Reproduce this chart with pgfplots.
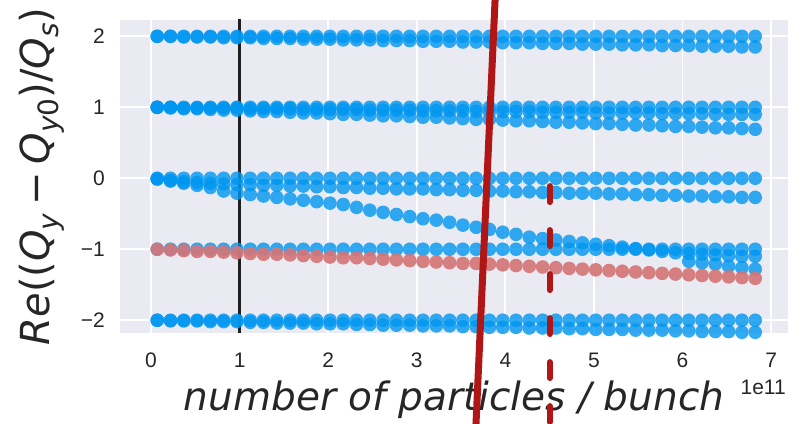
\documentclass[border=0pt]{standalone}
\usepackage{fontspec}
\setmainfont{Liberation Sans}
\newfontfamily\dvs{DejaVu Sans}
\usepackage{pgfplots}
\usepackage{pgfplotstable}
\usetikzlibrary{calc}
\pgfplotsset{compat=1.18}

\definecolor{bgc}{HTML}{EAEAF2}
\definecolor{txt}{HTML}{262626}
\definecolor{bluec}{RGB}{0,150,240}
\definecolor{redc}{RGB}{212,118,120}
\definecolor{lineRed}{RGB}{176,22,22}

% subscript in the label font
\newcommand{\sbs}[1]{\raisebox{-0.22em}{\fontsize{28}{28}\selectfont #1}}

% tune shift of each mode versus bunch intensity (x in units of 1e11)
\pgfplotstableread{
x    A  B    C  D    E    F  G     H     I  J     K  L     R
0.07 2  2.00 1  1.00 1.00 0  -0.01 -0.01 -1 nan   -2 -2.00 -1.00
0.22 2  2.00 1  1.00 0.99 0  -0.03 -0.04 -1 nan   -2 -2.01 -1.01
0.37 2  1.99 1  0.99 0.98 0  -0.05 -0.07 -1 nan   -2 -2.01 -1.02
0.52 2  1.99 1  0.99 0.98 0  -0.06 -0.10 -1 nan   -2 -2.01 -1.03
0.67 2  1.99 1  0.99 0.97 0  -0.07 -0.13 -1 nan   -2 -2.02 -1.03
0.82 2  1.98 1  0.99 0.96 0  -0.08 -0.18 -1 nan   -2 -2.02 -1.04
0.97 2  1.98 1  0.99 0.96 0  -0.09 -0.21 -1 nan   -2 -2.02 -1.05
1.12 2  1.98 1  0.98 0.95 0  -0.09 -0.23 -1 nan   -2 -2.03 -1.06
1.27 2  1.97 1  0.98 0.94 0  -0.10 -0.25 -1 nan   -2 -2.03 -1.07
1.42 2  1.97 1  0.98 0.94 0  -0.10 -0.27 -1 nan   -2 -2.04 -1.07
1.57 2  1.97 1  0.98 0.93 0  -0.11 -0.29 -1 nan   -2 -2.04 -1.08
1.72 2  1.96 1  0.97 0.92 0  -0.11 -0.31 -1 nan   -2 -2.04 -1.09
1.87 2  1.96 1  0.97 0.92 0  -0.12 -0.33 -1 nan   -2 -2.05 -1.10
2.02 2  1.96 1  0.97 0.91 0  -0.12 -0.35 -1 nan   -2 -2.05 -1.11
2.17 2  1.95 1  0.97 0.90 0  -0.13 -0.37 -1 nan   -2 -2.05 -1.12
2.32 2  1.95 1  0.97 0.90 0  -0.13 -0.41 -1 nan   -2 -2.06 -1.12
2.47 2  1.95 1  0.96 0.89 0  -0.14 -0.45 -1 nan   -2 -2.06 -1.13
2.62 2  1.94 1  0.96 0.88 0  -0.14 -0.48 -1 nan   -2 -2.07 -1.14
2.77 2  1.94 1  0.96 0.88 0  -0.15 -0.51 -1 nan   -2 -2.07 -1.15
2.92 2  1.94 1  0.96 0.87 0  -0.15 -0.54 -1 nan   -2 -2.07 -1.16
3.07 2  1.93 1  0.95 0.86 0  -0.15 -0.57 -1 nan   -2 -2.08 -1.17
3.22 2  1.93 1  0.95 0.86 0  -0.16 -0.59 -1 nan   -2 -2.08 -1.18
3.37 2  1.93 1  0.95 0.85 0  -0.16 -0.62 -1 nan   -2 -2.08 -1.19
3.52 2  1.92 1  0.95 0.84 0  -0.17 -0.66 -1 nan   -2 -2.09 -1.20
3.67 2  1.92 1  0.94 0.83 0  -0.17 -0.69 -1 nan   -2 -2.09 -1.20
3.82 2  1.92 1  0.94 0.83 0  -0.18 -0.72 -1 nan   -2 -2.10 -1.21
3.97 2  1.91 1  0.94 0.82 0  -0.18 -0.76 -1 nan   -2 -2.10 -1.22
4.12 2  1.91 1  0.94 0.81 0  -0.19 -0.79 -1 nan   -2 -2.10 -1.23
4.27 2  1.91 1  0.94 0.81 0  -0.19 -0.83 -1 nan   -2 -2.11 -1.24
4.42 2  1.90 1  0.93 0.80 0  -0.20 -0.85 -1 nan   -2 -2.11 -1.25
4.57 2  1.90 1  0.93 0.79 0  -0.20 -0.87 -1 nan   -2 -2.11 -1.26
4.72 2  1.90 1  0.93 0.79 0  -0.21 -0.89 -1 nan   -2 -2.12 -1.27
4.87 2  1.89 1  0.93 0.78 0  -0.21 -0.91 -1 nan   -2 -2.12 -1.28
5.02 2  1.89 1  0.92 0.77 0  -0.21 -0.93 -1 nan   -2 -2.13 -1.29
5.17 2  1.89 1  0.92 0.77 0  -0.22 -0.95 -1 nan   -2 -2.13 -1.30
5.32 2  1.88 1  0.92 0.76 0  -0.22 -0.97 -1 nan   -2 -2.13 -1.31
5.47 2  1.88 1  0.92 0.75 0  -0.23 -0.99 -1 nan   -2 -2.14 -1.32
5.62 2  1.88 1  0.92 0.75 0  -0.23 -1.01 -1 nan   -2 -2.14 -1.33
5.77 2  1.87 1  0.91 0.74 0  -0.24 -1.03 -1 nan   -2 -2.14 -1.34
5.92 2  1.87 1  0.91 0.73 0  -0.24 -1.05 -1 nan   -2 -2.15 -1.35
6.07 2  1.87 1  0.91 0.73 0  -0.25 -1.06 -1 -1.17 -2 -2.15 -1.36
6.22 2  1.86 1  0.91 0.72 0  -0.25 -1.07 -1 -1.19 -2 -2.16 -1.37
6.37 2  1.86 1  0.90 0.71 0  -0.26 -1.08 -1 -1.21 -2 -2.16 -1.38
6.52 2  1.86 1  0.90 0.71 0  -0.26 -1.09 -1 -1.24 -2 -2.16 -1.39
6.67 2  1.85 1  0.90 0.70 0  -0.27 -1.10 -1 -1.26 -2 -2.17 -1.40
6.82 2  1.85 1  0.90 0.69 0  -0.27 -1.10 -1 -1.28 -2 -2.17 -1.41
}\modes

\pgfplotsset{
  bluedots/.style={only marks, mark=*, mark size=6.8pt, draw=none,
    mark options={fill=bluec, fill opacity=0.8, draw opacity=0, line width=0pt}},
  reddots/.style={only marks, mark=*, mark size=6.8pt, draw=none,
    mark options={fill=redc, fill opacity=0.92, draw opacity=0, line width=0pt}},
}

\begin{document}
\begin{tikzpicture}
\begin{axis}[
  scale only axis, width=668pt, height=313pt,
  xmin=-0.35, xmax=7.19, ymin=-2.18, ymax=2.23,
  axis background/.style={fill=bgc},
  axis line style={draw=none},
  major tick length=0pt,
  xtick={0,1,2,3,4,5,6,7}, xticklabels={0,1,2,3,4,5,6,7},
  ytick={-2,-1,0,1,2}, yticklabels={−2,−1,0,1,2},
  grid=major, major grid style={white, line width=1.8pt},
  tick label style={font=\fontsize{21}{21}\selectfont, text=txt},
  xticklabel style={anchor=base, inner sep=0pt, yshift=-35pt},
  yticklabel style={anchor=east, inner sep=0pt, xshift=-15pt},
]
\foreach \c in {A,B,C,D,E,F,G,H,I,J,K,L}{
  \addplot[bluedots] table[x=x, y=\c] {\modes};
}
\addplot[reddots] table[x=x, y=R] {\modes};
\addplot[color=black!88, line width=2.8pt] coordinates {(1,-2.4) (1,2.4)};

\coordinate (sw) at (rel axis cs:0,0);
\coordinate (ne) at (rel axis cs:1,1);
\coordinate (ra) at (axis cs:3.656,-3.8);
\coordinate (rb) at (axis cs:3.894,2.8);
\coordinate (da) at (axis cs:4.5,-0.11);
\coordinate (db) at (axis cs:4.5,-3.8);
\end{axis}

% axis labels and offset text
\node[anchor=base, text=txt, font=\dvs\fontsize{39}{39}\selectfont\itshape]
  at ([yshift=-78pt]$(sw)!0.5!(sw-|ne)$) {number of particles / bunch};
\node[anchor=base east, text=txt, font=\fontsize{21}{21}\selectfont, inner sep=0pt]
  at ([xshift=-2pt, yshift=-62pt]sw-|ne) {1e11};
\node[rotate=90, anchor=base, text=txt, inner sep=0pt,
  font=\dvs\fontsize{40}{40}\selectfont]
  at ([xshift=-70pt]$(sw)!0.5!(sw|-ne)$)
  {\itshape Re\upshape((\itshape Q\sbs{\itshape y}\upshape\hspace{0.2em}−\hspace{0.2em}\itshape Q\sbs{\itshape y\upshape 0}\upshape)/\itshape Q\sbs{\itshape s}\upshape)};

% threshold markers
\draw[line width=7pt, color=lineRed] (ra) -- (rb);
\draw[line width=6pt, color=lineRed, line cap=round, dash pattern=on 16pt off 28pt] (da) -- (db);

\pgfresetboundingbox
\path[use as bounding box] ([xshift=-120pt, yshift=-91pt]sw) rectangle ([xshift=13pt, yshift=20pt]ne);
\end{tikzpicture}
\end{document}
